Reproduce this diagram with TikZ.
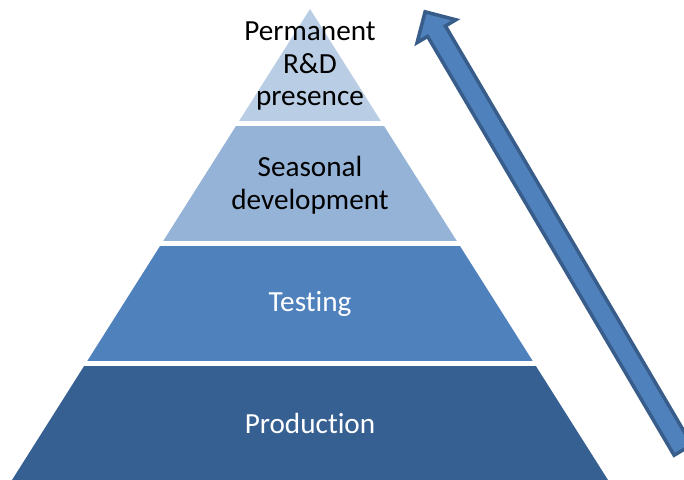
\documentclass[tikz,border=0pt]{standalone}
\usepackage{fontspec}
\setmainfont{Carlito}[Ligatures=NoCommon]
\usepackage{tikz}
\definecolor{topColor}{RGB}{185, 205, 229}
\definecolor{seasonColor}{RGB}{149, 179, 215}
\definecolor{testColor}{RGB}{79, 129, 189}
\definecolor{prodColor}{RGB}{55, 96, 146}
\definecolor{arrowColor}{RGB}{79, 129, 189}
\definecolor{arrowEdge}{RGB}{56, 93, 138}

\begin{document}
\begin{tikzpicture}[
    x=0.5pt, y=-0.5pt,
    tierText/.style={
        text=#1,
        align=center,
        inner sep=0pt,
        font=\fontsize{14.6}{16.3}\selectfont
    },
    bigarrow/.style={fill=arrowColor, draw=arrowEdge, line width=1.75pt, line join=miter}
]
    \useasboundingbox (0,0) rectangle (684,480);
    \clip (0,0) rectangle (684,480);

    % Pyramid tiers
    \begin{scope}
        \clip (310,9) -- (608,480) -- (12,480) -- cycle;
        \foreach \ytop/\ybot/\col in {0/120.7/topColor, 126.3/240.7/seasonColor,
                                      246.3/360.7/testColor, 366.3/480/prodColor} {
            \fill[\col] (0,\ytop) rectangle (684,\ybot);
        }
    \end{scope}

    % Tier labels
    \node[tierText=black] (permanent) at (310,66) {Permanent\\R\&D\\presence};
    \node[tierText=black] (seasonal) at (310,185) {Seasonal\\development};
    \node[tierText=white] (testing) at (310,304) {Testing};
    \node[tierText=white] (production) at (310,423) {Production};

    % Rising arrow
    \draw[bigarrow] (674.1,455.2) -- (427.6,36.4) -- (417.1,42.6) -- (425.1,11.8)
        -- (455.9,19.8) -- (445.4,26.0) -- (691.9,444.8) -- cycle;

\end{tikzpicture}
\end{document}
